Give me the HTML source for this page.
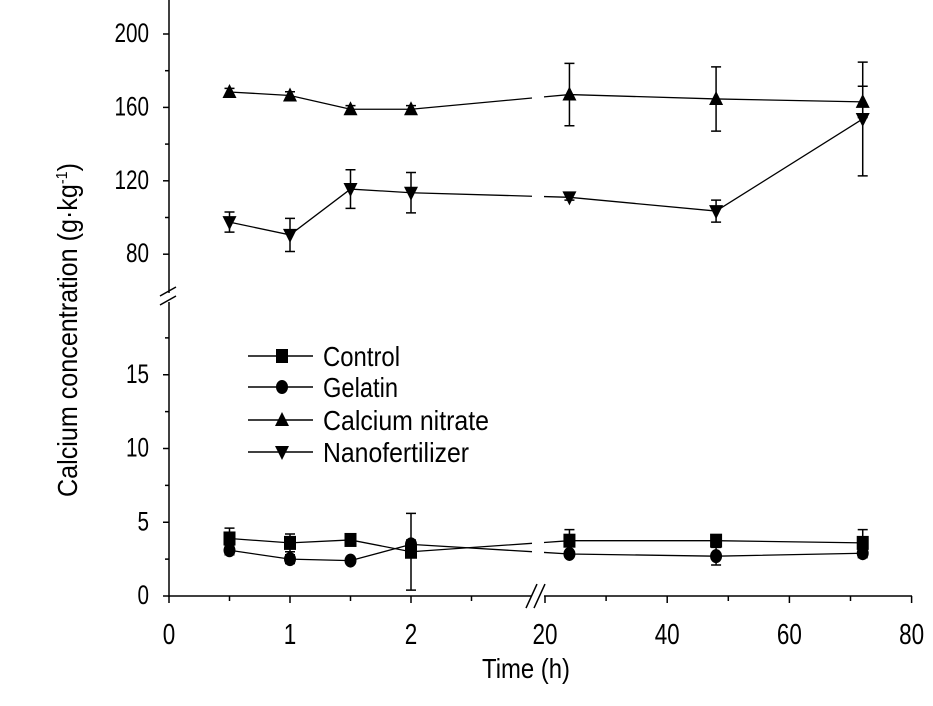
<!DOCTYPE html>
<html><head><meta charset="utf-8"><style>
html,body{margin:0;padding:0;background:#fff;}
svg{display:block;font-family:"Liberation Sans",sans-serif;}
</style></head><body>
<svg id="chart" width="933" height="706" viewBox="0 0 933 706" xmlns="http://www.w3.org/2000/svg">
<g id="axes"></g>
<g id="series"></g>
<g id="legend"></g>
<text transform="translate(77,330) rotate(-90)" text-anchor="middle" font-size="28" textLength="334" lengthAdjust="spacingAndGlyphs">Calcium concentration (g·kg<tspan font-size="16" dy="-10">-1</tspan><tspan dy="10">)</tspan></text>
<text x="526" y="678" text-anchor="middle" font-size="28" textLength="88" lengthAdjust="spacingAndGlyphs">Time (h)</text>
</svg>
<script>
const times = [0.5, 1, 1.5, 2, 24, 48, 72];
const seriesNames = ["Control", "Gelatin", "Calcium nitrate", "Nanofertilizer"];
const controlVals = [3.9, 3.6, 3.8, 3.0, 3.75, 3.75, 3.6];
const controlErr = [0.7, 0.6, 0.2, 2.6, 0.75, 0.2, 0.9];
const gelatinVals = [3.1, 2.5, 2.4, 3.5, 2.85, 2.7, 2.9];
const gelatinErr = [0.3, 0.3, 0.2, 0.3, 0.2, 0.6, 0.3];
const nitrateVals = [168.4, 166.5, 159, 159, 167, 164.6, 163];
const nitrateErr = [2, 2, 2, 2, 17, 17.5, 8.5];
const nanoVals = [97.5, 90.5, 115.5, 113.5, 111, 103.5, 153.7];
const nanoErr = [5.5, 9, 10.5, 11, 1.5, 6, 31];
const yTopTicks = [80, 120, 160, 200];
const yBotTicks = [0, 5, 10, 15];
const xLeftTicks = [0, 1, 2];
const xRightTicks = [20, 40, 60, 80];

const NS = "http://www.w3.org/2000/svg";
function el(tag, attrs, parent) { const e = document.createElementNS(NS, tag); for (const k in attrs) e.setAttribute(k, attrs[k]); parent.appendChild(e); return e; }
function xs(t) { return t <= 3 ? 169 + t * 121 : 545 + (t - 20) * 6.11; }
function ysTop(v) { return 34 + (200 - v) * 36.7 / 20; }
function ysBot(v) { return 596 - v * 14.75; }
const axes = document.getElementById('axes');
const ser = document.getElementById('series');
const leg = document.getElementById('legend');
const st = {stroke: '#000', 'stroke-width': 1.5, fill: 'none'};

let a = el('path', Object.assign({d: 'M169,0 V293 M169,302 V597'}, st), axes);


let b = el('path', Object.assign({d: 'M160,296 L176,287 M160,305 L176,296'}, st), axes);


function yLabel(v, y) {
  const s = String(v);
  const t = el('text', {x: 149, y: y + 8, 'text-anchor': 'end', 'font-size': 27, textLength: s.length * 11.5, lengthAdjust: 'spacingAndGlyphs'}, axes);
  t.textContent = s;
  
  
}
yTopTicks.forEach(v => {
  const y = ysTop(v);
  el('line', Object.assign({x1: 163, x2: 169, y1: y, y2: y}, st), axes);
  yLabel(v, y);
});
for (let v = 100; v <= 180; v += 40) { const y = ysTop(v); el('line', Object.assign({x1: 165, x2: 169, y1: y, y2: y}, st), axes); }
yBotTicks.forEach(v => {
  const y = ysBot(v);
  el('line', Object.assign({x1: 163, x2: 169, y1: y, y2: y}, st), axes);
  yLabel(v, y);
});
for (let v = 2.5; v <= 17.5; v += 5) { const y = ysBot(v); el('line', Object.assign({x1: 165, x2: 169, y1: y, y2: y}, st), axes); }
let xa = el('path', Object.assign({d: 'M169,596 H532 M544,596 H912'}, st), axes);


let xb = el('path', Object.assign({d: 'M526,608 L537,584 M534,608 L545,584'}, st), axes);


xLeftTicks.concat(xRightTicks).forEach(v => {
  const x = xs(v);
  el('line', Object.assign({x1: x, x2: x, y1: 596, y2: 603}, st), axes);
  const s = String(v);
  const t = el('text', {x: x, y: 644, 'text-anchor': 'middle', 'font-size': 29, textLength: s.length * 12.5, lengthAdjust: 'spacingAndGlyphs'}, axes);
  t.textContent = s;
  
  
});
[0.5, 1.5, 2.5].forEach(v => { const x = xs(v); el('line', Object.assign({x1: x, x2: x, y1: 596, y2: 601}, st), axes); });
[30, 50, 70].forEach(v => { const x = xs(v); el('line', Object.assign({x1: x, x2: x, y1: 596, y2: 601}, st), axes); });

function marker(type, x, y, g) {
  if (type === 0) return el('rect', {x: x - 6, y: y - 7, width: 12, height: 14, fill: '#000'}, g);
  if (type === 1) return el('ellipse', {cx: x, cy: y, rx: 6, ry: 7, fill: '#000'}, g);
  if (type === 2) return el('path', {d: `M${x},${y - 8} L${x + 7},${y + 6} L${x - 7},${y + 6} Z`, fill: '#000'}, g);
  return el('path', {d: `M${x},${y + 8} L${x + 7},${y - 6} L${x - 7},${y - 6} Z`, fill: '#000'}, g);
}
function drawSeries(name, vals, errs, ys, type) {
  const g = el('g', {}, ser);
  
  
  let d1 = '', d2 = '';
  times.forEach((t, i) => {
    const p = xs(t) + ',' + ys(vals[i]);
    if (t <= 3) d1 += (d1 ? ' L' : 'M') + p; else d2 += (d2 ? ' L' : 'M') + p;
  });
  const i2 = times.findIndex(t => t > 3);
  const xA = xs(times[i2 - 1]), yA = ys(vals[i2 - 1]), xB = xs(times[i2]), yB = ys(vals[i2]);
  const f = (x) => yA + (yB - yA) * (x - xA) / (xB - xA);
  d1 += ` L532,${f(532)}`;
  d2 = `M544,${f(544)} L` + d2.slice(1);
  el('path', {d: d1 + ' ' + d2, stroke: '#000', 'stroke-width': 1.3, fill: 'none'}, g);
  times.forEach((t, i) => {
    const x = xs(t), yt = ys(vals[i] + errs[i]), yb = ys(vals[i] - errs[i]);
    const e = el('path', {d: `M${x},${yt} V${yb} M${x - 5},${yt} H${x + 5} M${x - 5},${yb} H${x + 5}`, stroke: '#000', 'stroke-width': 1.5, fill: 'none'}, g);
    
    
    const m = marker(type, x, ys(vals[i]), g);
    
    
  });
}
drawSeries('control', controlVals, controlErr, ysBot, 0);
drawSeries('gelatin', gelatinVals, gelatinErr, ysBot, 1);
drawSeries('calcium-nitrate', nitrateVals, nitrateErr, ysTop, 2);
drawSeries('nanofertilizer', nanoVals, nanoErr, ysTop, 3);

const legY = [356, 387, 420, 452];
const legW = [77, 75, 166, 146];
seriesNames.forEach((n, i) => {
  const g = el('g', {}, leg);
  
  
  el('line', {x1: 248, x2: 313, y1: legY[i], y2: legY[i], stroke: '#000', 'stroke-width': 1.5}, g);
  marker(i, 282, legY[i], g);
  const t = el('text', {x: 323, y: legY[i] + 10, 'font-size': 28, textLength: legW[i], lengthAdjust: 'spacingAndGlyphs'}, g);
  t.textContent = n;
});
</script>
</body></html>
